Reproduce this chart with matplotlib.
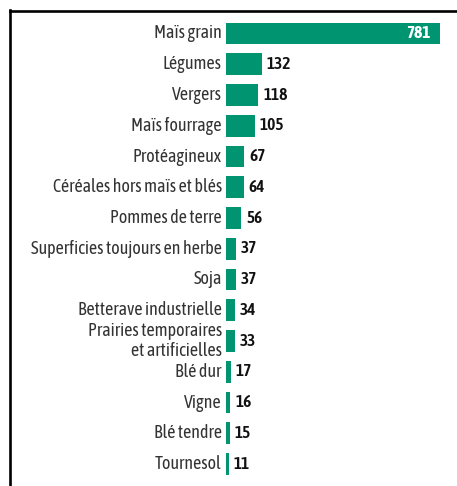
import matplotlib
matplotlib.use("Agg")
import matplotlib.pyplot as plt
from matplotlib.lines import Line2D

categories = [
    "Maïs grain", "Légumes", "Vergers", "Maïs fourrage", "Protéagineux",
    "Céréales hors maïs et blés", "Pommes de terre",
    "Superficies toujours en herbe", "Soja", "Betterave industrielle",
    "Prairies temporaires\net artificielles", "Blé dur", "Vigne",
    "Blé tendre", "Tournesol",
]
values = [781, 132, 118, 105, 67, 64, 56, 37, 37, 34, 33, 17, 16, 15, 11]

GREEN = "#009471"
TEXT = "#333333"

plt.rcParams["font.family"] = ["Asap Condensed", "Archivo Narrow", "DejaVu Sans"]

W, H, DPI = 457, 486, 100
fig = plt.figure(figsize=(W / DPI, H / DPI), dpi=DPI)

# axes placed in pixel terms
x0, x1 = 226, 440
top_c, bot_c = 33.5, 464.0
step = (bot_c - top_c) / (len(values) - 1)
ax_top = top_c - step / 2
ax_bot = bot_c + step / 2
ax = fig.add_axes([x0 / W, 1 - ax_bot / H, (x1 - x0) / W, (ax_bot - ax_top) / H])

y = list(range(len(values)))
ax.barh(y, values, height=0.7, color=GREEN, edgecolor="none")
ax.set_xlim(0, max(values))
ax.set_ylim(len(values) - 0.5, -0.5)
ax.set_axis_off()

for i, (cat, v) in enumerate(zip(categories, values)):
    ax.annotate(cat, xy=(0, i), xytext=(-3, 0), textcoords="offset points",
                ha="right", va="center", fontsize=13, color=TEXT,
                linespacing=1.15, annotation_clip=False)
    if i == 0:
        ax.annotate(str(v), xy=(v, i), xytext=(-7, 0), textcoords="offset points",
                    ha="right", va="center", fontsize=12.5, color="white",
                    fontweight="bold", annotation_clip=False)
    else:
        ax.annotate(str(v), xy=(v, i), xytext=(3.5, 0), textcoords="offset points",
                    ha="left", va="center", fontsize=12.5, color="#111111",
                    fontweight="semibold", annotation_clip=False)

# frame lines along the top and left edge
lw = 1.9
fig.add_artist(Line2D([9.5 / W, 9.5 / W], [0, 1 - 10 / H], color="black",
                      linewidth=lw, transform=fig.transFigure, solid_capstyle="projecting"))
fig.add_artist(Line2D([9.5 / W, 1], [1 - 11.5 / H, 1 - 11.5 / H], color="black",
                      linewidth=lw, transform=fig.transFigure, solid_capstyle="projecting"))

fig.savefig("out.png", dpi=DPI, facecolor="white")
